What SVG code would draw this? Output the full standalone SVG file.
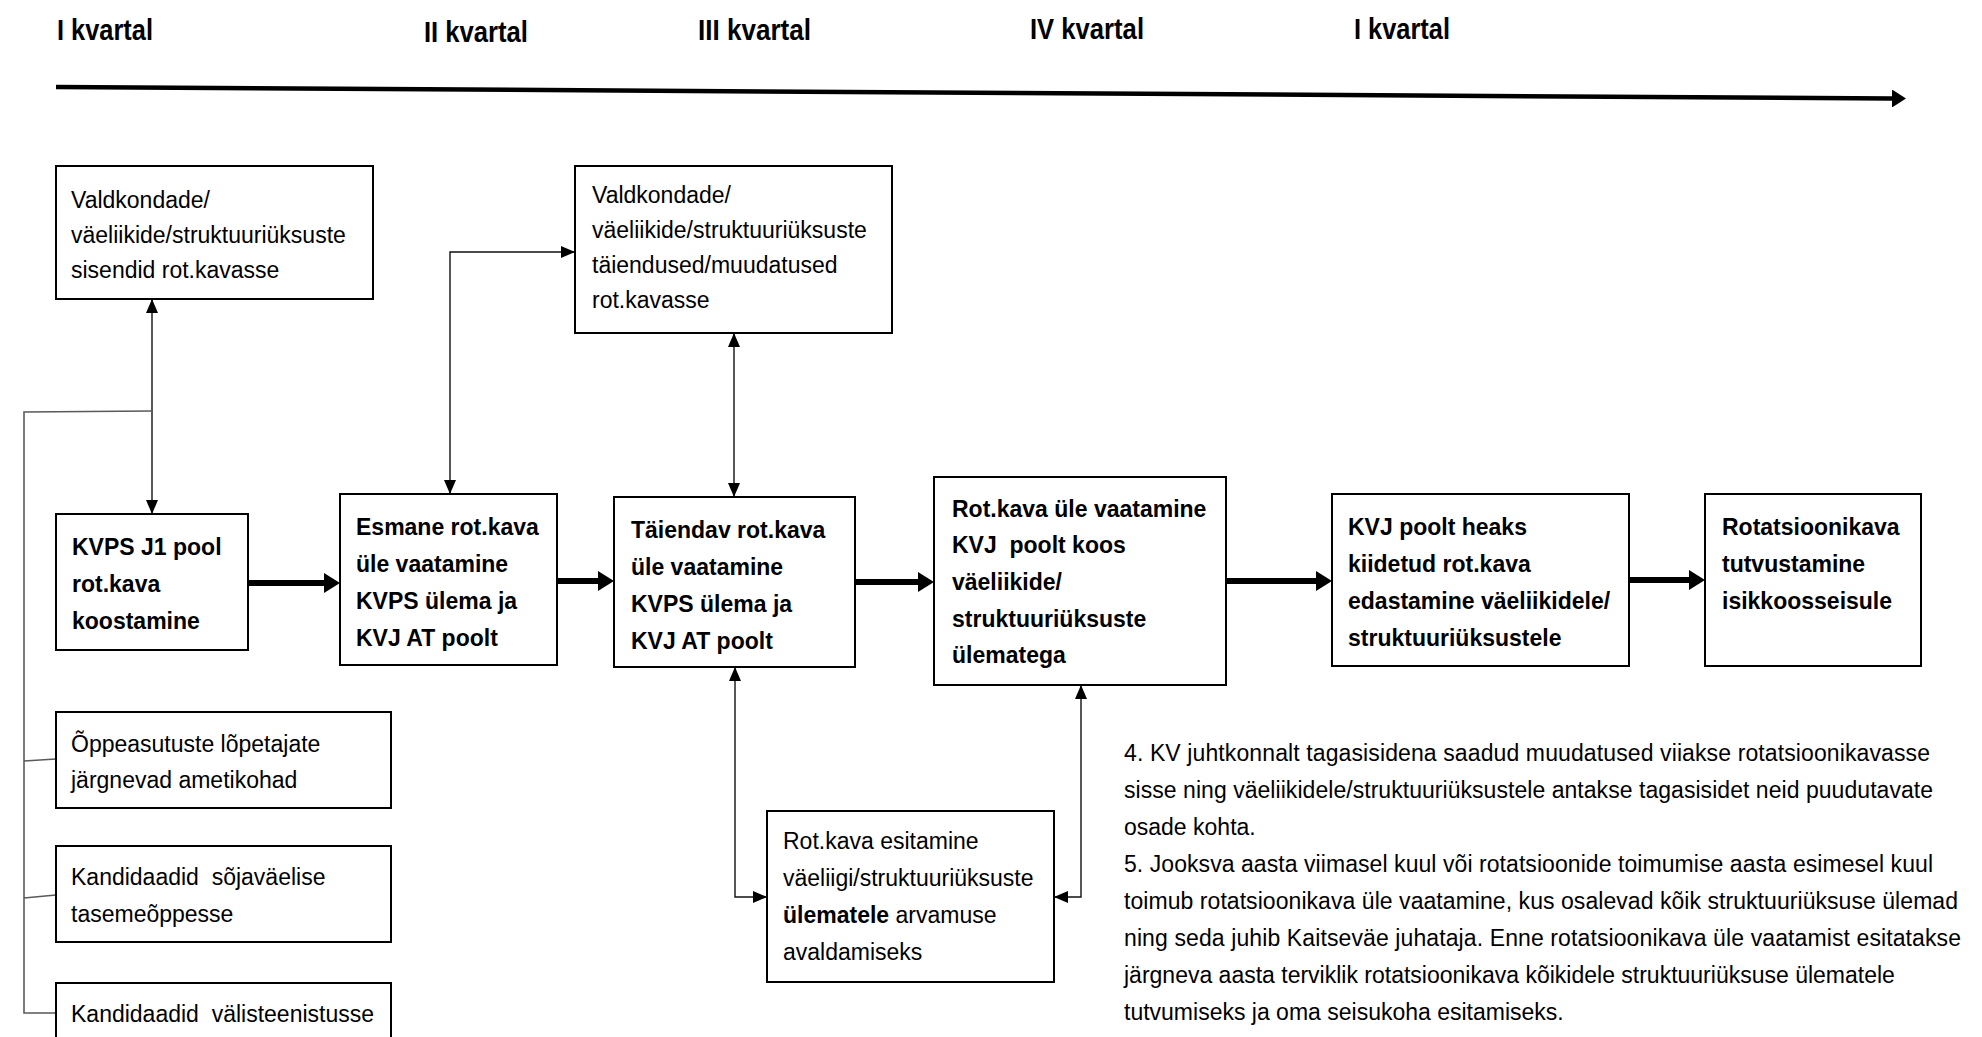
<svg xmlns="http://www.w3.org/2000/svg" width="1982" height="1037" viewBox="0 0 1982 1037">
<style>
.box{fill:#fff;stroke:#000;stroke-width:2}
.t{font-family:"Liberation Sans",Arial,sans-serif;font-size:23px;fill:#000}
.b{font-weight:bold}
.h{font-family:"Liberation Sans",Arial,sans-serif;font-size:30px;font-weight:bold;fill:#000}
.thin{fill:none;stroke:#111;stroke-width:1.4}
.grey{fill:none;stroke:#5a5a5a;stroke-width:1.6}
.thick{fill:none;stroke:#000;stroke-width:6}
</style>
<defs>
<marker id="ah" viewBox="0 0 14 12" refX="14" refY="6" markerWidth="14" markerHeight="12" markerUnits="userSpaceOnUse" orient="auto-start-reverse"><path d="M0,0 L14,6 L0,12 z" fill="#000"/></marker>
<marker id="big" viewBox="0 0 16 20" refX="0" refY="10" markerWidth="16" markerHeight="20" markerUnits="userSpaceOnUse" orient="auto"><path d="M0,0 L16,10 L0,20 z" fill="#000"/></marker>
<marker id="tl" viewBox="0 0 14 18" refX="0" refY="9" markerWidth="14" markerHeight="18" markerUnits="userSpaceOnUse" orient="auto"><path d="M0,0 L14,9 L0,18 z" fill="#000"/></marker>
</defs>

<g id="timeline">
<text class="h" x="57" y="40" textLength="96" lengthAdjust="spacingAndGlyphs">I kvartal</text>
<text class="h" x="424" y="42" textLength="104" lengthAdjust="spacingAndGlyphs">II kvartal</text>
<text class="h" x="698" y="39.5" textLength="113" lengthAdjust="spacingAndGlyphs">III kvartal</text>
<text class="h" x="1030" y="39" textLength="114" lengthAdjust="spacingAndGlyphs">IV kvartal</text>
<text class="h" x="1354" y="39" textLength="96" lengthAdjust="spacingAndGlyphs">I kvartal</text>
<line x1="56" y1="87" x2="1892" y2="98.5" stroke="#000" stroke-width="4.5" marker-end="url(#tl)"/>
</g>

<g id="connectors">
<line class="thin" x1="152" y1="299" x2="152" y2="514" marker-start="url(#ah)" marker-end="url(#ah)"/>
<path class="grey" d="M152,411 L24,412 L24,1013 L56,1013 M24,761 L56,759 M24,898 L56,895"/>
<path class="thin" d="M450,494 L450,252 L575,252" marker-start="url(#ah)" marker-end="url(#ah)"/>
<line class="thin" x1="734" y1="333" x2="734" y2="497" marker-start="url(#ah)" marker-end="url(#ah)"/>
<path class="thin" d="M735,667 L735,897 L767,897" marker-start="url(#ah)" marker-end="url(#ah)"/>
<path class="thin" d="M1081,685 L1081,897 L1054,897" marker-start="url(#ah)" marker-end="url(#ah)"/>
<line class="thick" x1="248" y1="583" x2="324" y2="583" marker-end="url(#big)"/>
<line class="thick" x1="557" y1="581" x2="598" y2="581" marker-end="url(#big)"/>
<line class="thick" x1="855" y1="582" x2="918" y2="582" marker-end="url(#big)"/>
<line class="thick" x1="1226" y1="581" x2="1316" y2="581" marker-end="url(#big)"/>
<line class="thick" x1="1629" y1="580" x2="1689" y2="580" marker-end="url(#big)"/>
</g>

<g id="nodeA"><rect class="box" x="56" y="166" width="317" height="133"/>
<text class="t"><tspan x="71" y="208">Valdkondade/</tspan><tspan x="71" y="243">väeliikide/struktuuriüksuste</tspan><tspan x="71" y="278">sisendid rot.kavasse</tspan></text></g>

<g id="nodeB"><rect class="box" x="575" y="166" width="317" height="167"/>
<text class="t"><tspan x="592" y="203">Valdkondade/</tspan><tspan x="592" y="238">väeliikide/struktuuriüksuste</tspan><tspan x="592" y="273">täiendused/muudatused</tspan><tspan x="592" y="308">rot.kavasse</tspan></text></g>

<g id="nodeC"><rect class="box" x="56" y="514" width="192" height="136"/>
<text class="t b"><tspan x="72" y="555">KVPS J1 pool</tspan><tspan x="72" y="592">rot.kava</tspan><tspan x="72" y="629">koostamine</tspan></text></g>

<g id="nodeD"><rect class="box" x="340" y="494" width="217" height="171"/>
<text class="t b"><tspan x="356" y="535">Esmane rot.kava</tspan><tspan x="356" y="572">üle vaatamine</tspan><tspan x="356" y="609">KVPS ülema ja</tspan><tspan x="356" y="646">KVJ AT poolt</tspan></text></g>

<g id="nodeE"><rect class="box" x="614" y="497" width="241" height="170"/>
<text class="t b"><tspan x="631" y="538">Täiendav rot.kava</tspan><tspan x="631" y="575">üle vaatamine</tspan><tspan x="631" y="612">KVPS ülema ja</tspan><tspan x="631" y="649">KVJ AT poolt</tspan></text></g>

<g id="nodeF"><rect class="box" x="934" y="477" width="292" height="208"/>
<text class="t b" xml:space="preserve"><tspan x="952" y="517">Rot.kava üle vaatamine</tspan><tspan x="952" y="553">KVJ  poolt koos</tspan><tspan x="952" y="590">väeliikide/</tspan><tspan x="952" y="627">struktuuriüksuste</tspan><tspan x="952" y="663">ülematega</tspan></text></g>

<g id="nodeG"><rect class="box" x="1332" y="494" width="297" height="172"/>
<text class="t b"><tspan x="1348" y="535">KVJ poolt heaks</tspan><tspan x="1348" y="572">kiidetud rot.kava</tspan><tspan x="1348" y="609">edastamine väeliikidele/</tspan><tspan x="1348" y="646">struktuuriüksustele</tspan></text></g>

<g id="nodeH"><rect class="box" x="1705" y="494" width="216" height="172"/>
<text class="t b"><tspan x="1722" y="535">Rotatsioonikava</tspan><tspan x="1722" y="572">tutvustamine</tspan><tspan x="1722" y="609">isikkoosseisule</tspan></text></g>

<g id="nodeI"><rect class="box" x="56" y="712" width="335" height="96"/>
<text class="t"><tspan x="71" y="752">Õppeasutuste lõpetajate</tspan><tspan x="71" y="788">järgnevad ametikohad</tspan></text></g>

<g id="nodeJ"><rect class="box" x="56" y="846" width="335" height="96"/>
<text class="t" xml:space="preserve"><tspan x="71" y="885">Kandidaadid  sõjaväelise</tspan><tspan x="71" y="922">tasemeõppesse</tspan></text></g>

<g id="nodeK"><rect class="box" x="56" y="983" width="335" height="70"/>
<text class="t" xml:space="preserve"><tspan x="71" y="1022">Kandidaadid  välisteenistusse</tspan></text></g>

<g id="nodeL"><rect class="box" x="767" y="811" width="287" height="171"/>
<text class="t"><tspan x="783" y="849">Rot.kava esitamine</tspan><tspan x="783" y="886">väeliigi/struktuuriüksuste</tspan><tspan x="783" y="923"><tspan class="b">ülematele</tspan> arvamuse</tspan><tspan x="783" y="960">avaldamiseks</tspan></text></g>

<g id="notes">
<text class="t" x="1124" y="761" textLength="806" lengthAdjust="spacing">4. KV juhtkonnalt  tagasisidena saadud muudatused  viiakse rotatsioonikavasse</text>
<text class="t" x="1124" y="798" textLength="809" lengthAdjust="spacing">sisse ning väeliikidele/struktuuriüksustele  antakse tagasisidet neid puudutavate</text>
<text class="t" x="1124" y="835">osade kohta.</text>
<text class="t" x="1124" y="872" textLength="809" lengthAdjust="spacing">5. Jooksva aasta viimasel kuul  või rotatsioonide toimumise aasta esimesel kuul</text>
<text class="t" x="1124" y="909" textLength="834" lengthAdjust="spacing">toimub  rotatsioonikava üle vaatamine, kus osalevad kõik struktuuriüksuse ülemad</text>
<text class="t" x="1124" y="946" textLength="837" lengthAdjust="spacing">ning  seda juhib  Kaitseväe juhataja.  Enne rotatsioonikava üle vaatamist esitatakse</text>
<text class="t" x="1124" y="983">järgneva aasta terviklik rotatsioonikava kõikidele struktuuriüksuse ülematele</text>
<text class="t" x="1124" y="1020">tutvumiseks ja oma seisukoha esitamiseks.</text>
</g>
</svg>
